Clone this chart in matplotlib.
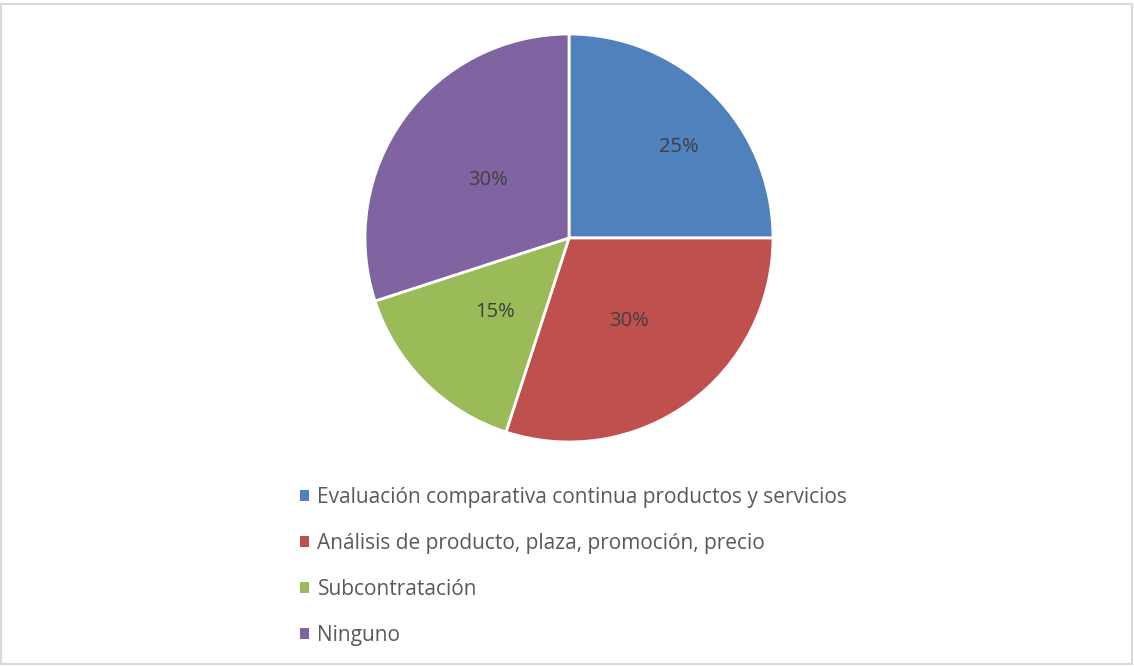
import numpy as np
import matplotlib.pyplot as plt
from matplotlib.patches import Rectangle

categorias = [
    "Evaluación comparativa continua productos y servicios",
    "Análisis de producto, plaza, promoción, precio",
    "Subcontratación",
    "Ninguno",
]
porcentajes = [25, 30, 15, 30]
colores = ["#4F81BD", "#C0504D", "#9BBB59", "#8064A2"]
# posición de cada etiqueta: fracción del radio y giro respecto al centro del sector
dist_etiquetas = [0.70, 0.50, 0.51, 0.49]
giro_etiquetas = [-5.5, 0, 0, 0.5]

plt.rcParams['font.family'] = ['Open Sans', 'DejaVu Sans']

W, H = 1134, 666
fig = plt.figure(figsize=(W / 100, H / 100), dpi=100)

# marco gris del gráfico
fig.patches.append(Rectangle((1 / W, 2 / H), (W - 3) / W, (H - 6) / H,
                             transform=fig.transFigure, fill=False,
                             edgecolor="#D9D9D9", linewidth=1.5))

ax = fig.add_axes([365 / W, (H - 442) / H, 408 / W, 408 / H])
wedges, _ = ax.pie(
    porcentajes,
    colors=colores,
    startangle=90,
    counterclock=False,
    radius=1,
    wedgeprops={'edgecolor': 'white', 'linewidth': 2},
)
for w, p, d, g in zip(wedges, porcentajes, dist_etiquetas, giro_etiquetas):
    ang = np.deg2rad((w.theta1 + w.theta2) / 2 + g)
    ax.text(d * np.cos(ang), d * np.sin(ang), f"{p}%",
            ha='center', va='center', fontsize=14.5, color='#404040')
ax.set_xlim(-1, 1)
ax.set_ylim(-1, 1)
ax.set_aspect('equal')
ax.axis('off')

leg = fig.legend(
    wedges, categorias,
    loc='upper left',
    bbox_to_anchor=(281 / W, (H - 468) / H),
    frameon=False,
    fontsize=15,
    handlelength=0.45,
    handleheight=0.45,
    handletextpad=0.4,
    labelspacing=1.2,
    labelcolor='#595959',
)
for h in leg.legend_handles:
    h.set_edgecolor('none')

fig.savefig("out.png", dpi=100, facecolor='white')
